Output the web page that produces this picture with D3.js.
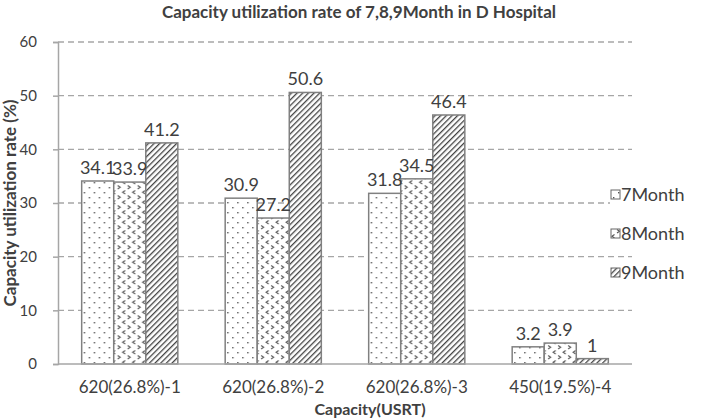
<!DOCTYPE html>
<html>
<head>
<meta charset="utf-8">
<script src="https://cdn.jsdelivr.net/npm/d3@7"></script>
<style>
  body { margin: 0; background: #fff; }
  text { font-family: Lato, "Open Sans", sans-serif; fill: #404040; }
</style>
</head>
<body>
<div id="chart"></div>
<script>
// data
var categories = ["620(26.8%)-1", "620(26.8%)-2", "620(26.8%)-3", "450(19.5%)-4"];
var seriesNames = ["7Month", "8Month", "9Month"];
var month7 = [34.1, 30.9, 31.8, 3.2];
var month8 = [33.9, 27.2, 34.5, 3.9];
var month9 = [41.2, 50.6, 46.4, 1];
var yTicks = [0, 10, 20, 30, 40, 50, 60];

var seriesValues = [month7, month8, month9];

var W = 702, H = 420;
var plotLeft = 58, plotRight = 632, plotTop = 42, plotBottom = 364;

var svg = d3.select("#chart").append("svg")
  .attr("width", W)
  .attr("height", H);

// fill patterns
var defs = svg.append("defs");

var p7 = defs.append("pattern").attr("id", "pat0")
  .attr("patternUnits", "userSpaceOnUse").attr("width", 10).attr("height", 10);
p7.append("rect").attr("width", 10).attr("height", 10).attr("fill", "#fff");
p7.append("rect").attr("x", 2).attr("y", 2).attr("width", 1.4).attr("height", 1.4).attr("fill", "#555");
p7.append("rect").attr("x", 7).attr("y", 7).attr("width", 1.4).attr("height", 1.4).attr("fill", "#555");

var p8 = defs.append("pattern").attr("id", "pat1")
  .attr("patternUnits", "userSpaceOnUse").attr("width", 10).attr("height", 10);
p8.append("rect").attr("width", 10).attr("height", 10).attr("fill", "#fff");
p8.append("path").attr("d", "M3.5,0.5 L1,2.3 L3.5,4").attr("fill", "none").attr("stroke", "#555").attr("stroke-width", 1.1);
p8.append("path").attr("d", "M6,5.5 L8.5,7.3 L6,9").attr("fill", "none").attr("stroke", "#555").attr("stroke-width", 1.1);

var p9 = defs.append("pattern").attr("id", "pat2")
  .attr("patternUnits", "userSpaceOnUse").attr("width", 4).attr("height", 4)
  .attr("patternTransform", "rotate(45)");
p9.append("rect").attr("width", 4).attr("height", 4).attr("fill", "#fff");
p9.append("rect").attr("x", 0).attr("y", 0).attr("width", 1.3).attr("height", 4).attr("fill", "#444");

// scales
var x0 = d3.scaleBand()
  .domain(categories)
  .range([plotLeft, plotRight])
  .paddingInner(0.33)
  .paddingOuter(0.165);

var x1 = d3.scaleBand()
  .domain(seriesNames)
  .range([0, x0.bandwidth()]);

var y = d3.scaleLinear()
  .domain([0, 60])
  .range([plotBottom, plotTop]);

// gridlines
svg.append("g")
  .selectAll("line")
  .data(yTicks.filter(function(d) { return d > 0; }))
  .enter().append("line")
    .attr("x1", plotLeft).attr("x2", plotRight)
    .attr("y1", function(d) { return y(d); })
    .attr("y2", function(d) { return y(d); })
    .attr("stroke", "#a6a6a6")
    .attr("stroke-width", 1.3)
    .attr("stroke-dasharray", "6,4");

// y axis
var yAxis = svg.append("g")
  .attr("transform", "translate(" + plotLeft + ",0)")
  .call(d3.axisLeft(y).tickValues(yTicks).tickSize(5).tickPadding(16));
yAxis.select(".domain").attr("stroke", "#a6a6a6").attr("stroke-width", 1.5);
yAxis.selectAll(".tick line").attr("stroke", "#a6a6a6").attr("stroke-width", 1.5);
yAxis.selectAll(".tick text").style("font-size", "15px").attr("fill", "#404040");

// bars
var groups = svg.append("g")
  .selectAll("g")
  .data(categories)
  .enter().append("g")
    .attr("transform", function(d) { return "translate(" + x0(d) + ",0)"; });

function cells(c, i) {
  return seriesNames.map(function(s, j) { return { s: s, j: j, v: seriesValues[j][i] }; });
}

groups.selectAll("rect")
  .data(cells)
  .enter().append("rect")
    .attr("x", function(d) { return x1(d.s); })
    .attr("width", x1.bandwidth())
    .attr("y", function(d) { return y(d.v); })
    .attr("height", function(d) { return y(0) - y(d.v); })
    .attr("fill", function(d) { return "url(#pat" + d.j + ")"; })
    .attr("stroke", "#808080")
    .attr("stroke-width", 1.5);

groups.selectAll("text")
  .data(cells)
  .enter().append("text")
    .attr("x", function(d) { return x1(d.s) + x1.bandwidth() / 2; })
    .attr("y", function(d) { return y(d.v) - 7; })
    .attr("text-anchor", "middle")
    .style("font-size", "18px")
    .text(function(d) { return d.v; });

// x baseline
svg.append("line")
  .attr("x1", plotLeft).attr("x2", plotRight)
  .attr("y1", y(0)).attr("y2", y(0))
  .attr("stroke", "#a6a6a6")
  .attr("stroke-width", 1.5);

// category labels
svg.append("g")
  .selectAll("text")
  .data(categories)
  .enter().append("text")
    .attr("x", function(d) { return x0(d) + x0.bandwidth() / 2; })
    .attr("y", 393)
    .attr("text-anchor", "middle")
    .style("font-size", "17px")
    .text(function(d) { return d; });

// titles
svg.append("text")
  .attr("x", 359).attr("y", 18)
  .attr("text-anchor", "middle")
  .style("font-size", "17px")
  .style("font-weight", "bold")
  .attr("fill", "#222")
  .text("Capacity utilization rate of 7,8,9Month in D Hospital");

svg.append("text")
  .attr("transform", "translate(16," + ((plotTop + plotBottom) / 2) + ") rotate(-90)")
  .attr("text-anchor", "middle")
  .style("font-size", "17px")
  .style("font-weight", "bold")
  .attr("fill", "#222")
  .text("Capacity utilization rate (%)");

svg.append("text")
  .attr("x", 370).attr("y", 415)
  .attr("text-anchor", "middle")
  .style("font-size", "16px")
  .style("font-weight", "bold")
  .attr("fill", "#222")
  .text("Capacity(USRT)");

// legend
var legend = svg.append("g")
  .selectAll("g")
  .data(seriesNames)
  .enter().append("g")
    .attr("transform", function(d, i) { return "translate(611," + (195 + i * 39) + ")"; });

legend.append("rect")
  .attr("x", -1).attr("y", -11).attr("width", 84).attr("height", 20)
  .attr("fill", "#fff");

legend.append("rect")
  .attr("x", 0).attr("y", -5).attr("width", 9).attr("height", 9)
  .attr("fill", function(d, i) { return "url(#pat" + i + ")"; })
  .attr("stroke", "#666")
  .attr("stroke-width", 1);

legend.append("text")
  .attr("x", 10).attr("y", 6)
  .style("font-size", "18px")
  .text(function(d) { return d; });
</script>
</body>
</html>
